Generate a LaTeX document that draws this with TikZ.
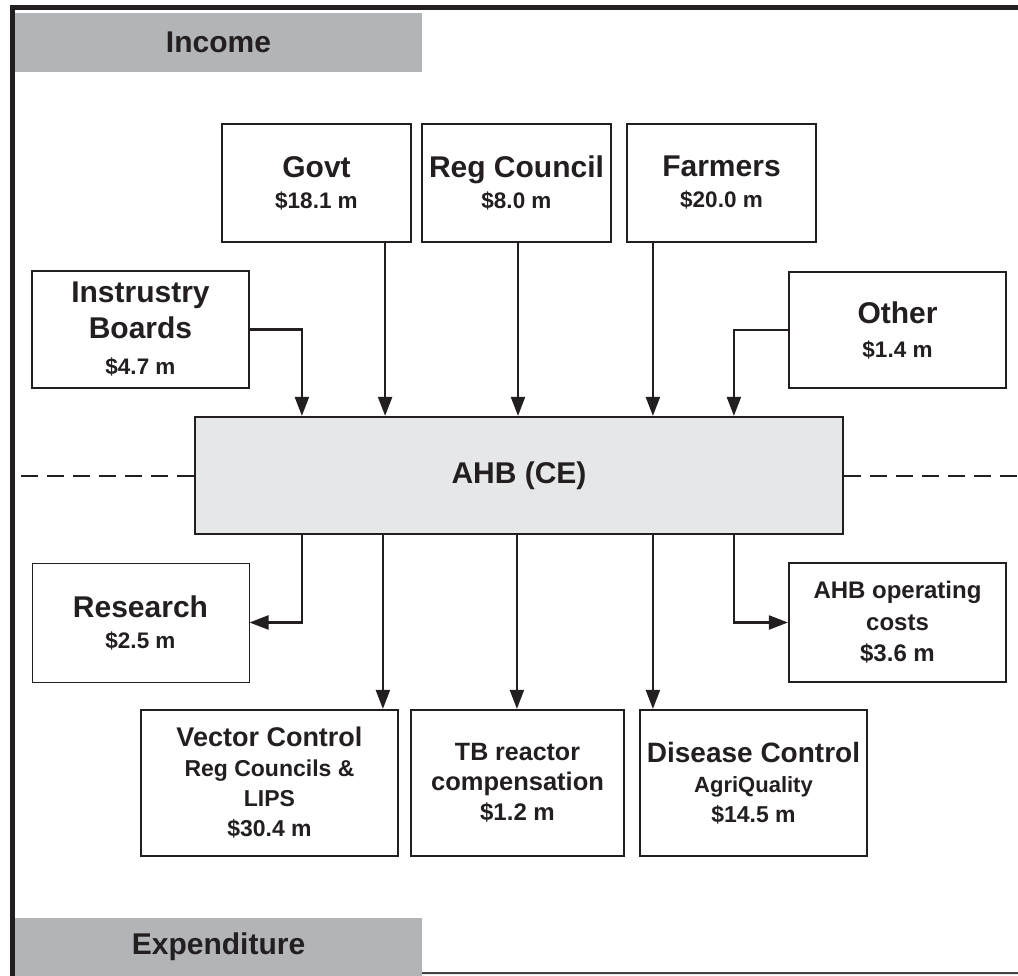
\documentclass[tikz,border=0pt]{standalone}
\usepackage{fontspec}
\setmainfont{Liberation Sans}
\usetikzlibrary{arrows.meta,calc}
\definecolor{ink}{HTML}{231F20}
\definecolor{band}{HTML}{B3B4B7}
\definecolor{ahbfill}{HTML}{E6E7E8}
\newcommand\fs[2]{\fontsize{#1}{#2}\selectfont}
\begin{document}
\begin{tikzpicture}[x=1pt,y=-1pt,
  box/.style={draw=ink, line width=2.2pt, inner sep=0pt, align=center, text=ink},
  lines/.style={font=\bfseries\fs{30}{#1}},
  thinbox/.style={box, line width=1pt},
  bandbox/.style={fill=band, inner sep=0pt, minimum width=407pt, text=ink, font=\bfseries\fs{30}{31}},
  arr/.style={draw=ink, line width=2.2pt, -{Triangle[length=19pt,width=14pt]}},
  dashline/.style={draw=ink, line width=2pt, dash pattern=on 17pt off 9pt}
  ]
\useasboundingbox (0,0) rectangle (1018,976);

% bands
\node[bandbox, minimum height=59pt] (income) at (218.5,42.5) {Income};
\node[bandbox, minimum height=58pt] (expend) at (218.5,947) {Expenditure};

% frame
\draw[ink, line width=5pt] (12.5,976) -- (12.5,8) -- (1018,8);
\draw[ink!85, line width=2pt] (expend.south east) ++(0,-3) -- (1018,973);

% income boxes
\node[box, lines=31, minimum width=189pt, minimum height=118pt] (govt) at (316.5,183)
  {Govt\\\fs{22.5}{31}\$18.1 m};
\node[box, lines=31, minimum width=189pt, minimum height=118pt] (reg) at (516.5,183)
  {Reg Council\\\fs{22.5}{31}\$8.0 m};
\node[box, lines=31, minimum width=189pt, minimum height=118pt] (farm) at (721.5,183)
  {Farmers\\\fs{22.5}{31}\$20.0 m};
\node[box, lines=36, minimum width=217pt, minimum height=117pt] (ind) at (140.5,329.5)
  {Instrustry\\Boards\\\fs{22.5}{36}\$4.7 m};
\node[box, lines=34, minimum width=217pt, minimum height=116pt] (oth) at (897.5,330)
  {Other\\\fs{22.5}{34}\$1.4 m};

% central box
\node[box, lines=31, fill=ahbfill, minimum width=648pt, minimum height=117pt] (ahb) at (519,475.5)
  {AHB (CE)};

% expenditure boxes
\node[thinbox, lines=31, minimum width=217pt, minimum height=119pt] (res) at (140.5,622.5)
  {Research\\\fs{22.5}{31}\$2.5 m};
\node[box, lines=31.5, minimum width=217pt, minimum height=119pt] (ops) at (897.5,622.5)
  {\fs{24}{31.5}AHB operating\\\fs{24}{31.5}costs\\\fs{24}{31.5}\$3.6 m};
\node[box, lines=30, minimum width=257pt, minimum height=146pt] (vec) at (269.5,783)
  {\fs{27}{30}Vector Control\\\fs{23}{30}Reg Councils \&\\\fs{23}{30}LIPS\\\fs{23}{30}\$30.4 m};
\node[box, lines=30, minimum width=213pt, minimum height=146pt] (tb) at (517.5,783)
  {\fs{25}{30}TB reactor\\\fs{25.5}{30}compensation\\\fs{24}{30}\$1.2 m};
\node[box, lines=30, minimum width=227pt, minimum height=146pt] (dis) at (753.5,783)
  {\fs{28}{30}Disease Control\\\fs{22}{30}AgriQuality\\\fs{23}{30}\$14.5 m};

% dashed divider
\draw[dashline] (ahb.west) -- (15,475.5);
\draw[dashline] (ahb.east) -- (1018,475.5);

% income arrows
\draw[arr] (ind.east) -| ([xshift=108pt]ahb.north west);
\draw[arr] ([xshift=-27pt]govt.south east) -- ([xshift=-27pt]govt.south east |- ahb.north);
\draw[arr] ([xshift=1.5pt]reg.south) -- ([xshift=1.5pt]reg.south |- ahb.north);
\draw[arr] ([xshift=27pt]farm.south west) -- ([xshift=27pt]farm.south west |- ahb.north);
\draw[arr] (oth.west) -| ([xshift=540pt]ahb.north west);

% expenditure arrows
\draw[arr] ([xshift=108pt]ahb.south west) |- (res.east);
\draw[arr] ([xshift=189pt]ahb.south west) -- ([xshift=189pt]ahb.south west |- vec.north);
\draw[arr] ([xshift=323pt]ahb.south west) -- ([xshift=323pt]ahb.south west |- tb.north);
\draw[arr] ([xshift=459pt]ahb.south west) -- ([xshift=459pt]ahb.south west |- dis.north);
\draw[arr] ([xshift=540pt]ahb.south west) |- (ops.west);
\end{tikzpicture}
\end{document}
